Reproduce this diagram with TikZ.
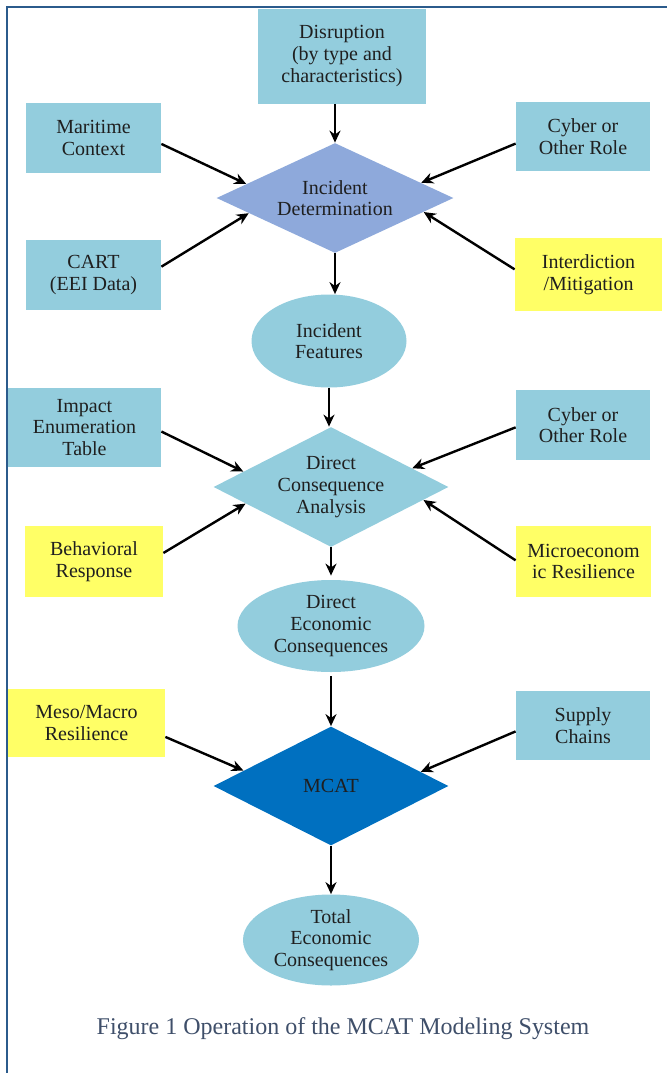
\documentclass[tikz,border=0pt]{standalone}
\usepackage{fontspec}
\setmainfont{Liberation Serif}
\usetikzlibrary{shapes.geometric,arrows.meta}

\definecolor{boxblue}{HTML}{93CDDD}
\definecolor{boxyellow}{HTML}{FFFF66}
\definecolor{idblue}{HTML}{8EA9DB}
\definecolor{mcatblue}{HTML}{0070C0}
\definecolor{framecol}{HTML}{2B5B8C}
\definecolor{captioncol}{HTML}{3F4F6A}

\def\boxfont{\fontsize{10}{10.8}\selectfont}

\begin{document}
\begin{tikzpicture}[x=0.5pt,y=-0.5pt,
	box/.style={rectangle,fill=boxblue,align=center,inner sep=0pt,font=\boxfont,text=black!88},
	ybox/.style={box,fill=boxyellow},
	dia/.style={diamond,aspect=2,inner sep=0pt,align=center,font=\boxfont,text=black!88},
	oval/.style={ellipse,fill=boxblue,inner sep=0pt,align=center,font=\boxfont,text=black!88},
	arr/.style={-{Stealth[length=6pt,width=5.5pt]},line width=1.2pt,black}]

	\useasboundingbox (0,0) rectangle (667,1073);
	\draw[framecol,line width=1.1pt] (7,1073) -- (7,7) -- (667,7);

	% incident determination
	\node[box,minimum width=84pt,minimum height=47.5pt] (dis) at (342,56) {Disruption\\(by type and\\characteristics)};
	\node[box,minimum width=67.5pt,minimum height=35pt] (mc) at (93.5,138) {Maritime\\Context};
	\node[box,minimum width=67pt,minimum height=34.5pt] (co1) at (583,136.5) {Cyber or\\Other Role};
	\node[box,minimum width=67.5pt,minimum height=35pt] (cart) at (93.5,275) {CART\\(EEI Data)};
	\node[ybox,minimum width=73.5pt,minimum height=36.5pt] (intd) at (588.5,274.5) {Interdiction\\/Mitigation};
	\node[dia,fill=idblue,minimum width=118.5pt,minimum height=55pt] (id) at (335,198) {Incident\\Determination};
	\node[oval,minimum width=77.5pt,minimum height=46.5pt] (if) at (329,341) {Incident\\Features};

	% direct consequence analysis
	\node[box,minimum width=76.5pt,minimum height=39.5pt] (imp) at (84.5,427.5) {Impact\\Enumeration\\Table};
	\node[box,minimum width=67pt,minimum height=35pt] (co2) at (583,425) {Cyber or\\Other Role};
	\node[ybox,minimum width=69pt,minimum height=35.5pt] (beh) at (94,561.5) {Behavioral\\Response};
	\node[ybox,minimum width=67.5pt,minimum height=35.5pt] (mic) at (583.5,561.5) {Microeconom\\ic Resilience};
	\node[dia,fill=boxblue,minimum width=117.5pt,minimum height=60pt] (dca) at (331,487) {Direct\\Consequence\\Analysis};
	\node[oval,minimum width=93.5pt,minimum height=46pt] (dec) at (331,626) {Direct\\Economic\\Consequences};

	% MCAT
	\node[ybox,minimum width=78.5pt,minimum height=34pt] (meso) at (86.5,723) {Meso/Macro\\Resilience};
	\node[box,minimum width=67pt,minimum height=34.5pt] (sup) at (583,725.5) {Supply\\Chains};
	\node[dia,fill=mcatblue,minimum width=117.5pt,minimum height=59.5pt] (mcat) at (331,786) {MCAT};
	\node[oval,minimum width=88pt,minimum height=45.5pt] (tec) at (331,940) {Total\\Economic\\Consequences};

	\node[text=captioncol,font=\fontsize{12}{14}\selectfont] (cap) at (343,1029) {Figure 1 Operation of the MCAT Modeling System};

	% arrows
	\draw[arr] (dis.south -| id) -- (id.north);
	\draw[arr] (mc.-5) -- (id.171);
	\draw[arr] (co1.186) -- (id.10);
	\draw[arr] (cart.7) -- (id.190);
	\draw[arr] (intd.176) -- (id.351);
	\draw[arr] (id.south) -- (if.north -| id.south);

	\draw[arr] (if.south) -- (dca.north -| if.south);
	\draw[arr] (imp.-3) -- (dca.170);
	\draw[arr] (co2.182) -- (dca.13);
	\draw[arr] (beh.7) -- (dca.191);
	\draw[arr] (mic.179) -- (dca.352);
	\draw[arr] (dca.south) -- ([yshift=2pt]dec.north);

	\draw[arr] ([yshift=-2pt]dec.south) -- (mcat.north);
	\draw[arr] (meso.-10) -- (mcat.170);
	\draw[arr] (sup.185) -- (mcat.9);
	\draw[arr] (mcat.south) -- (tec.north);
\end{tikzpicture}
\end{document}
